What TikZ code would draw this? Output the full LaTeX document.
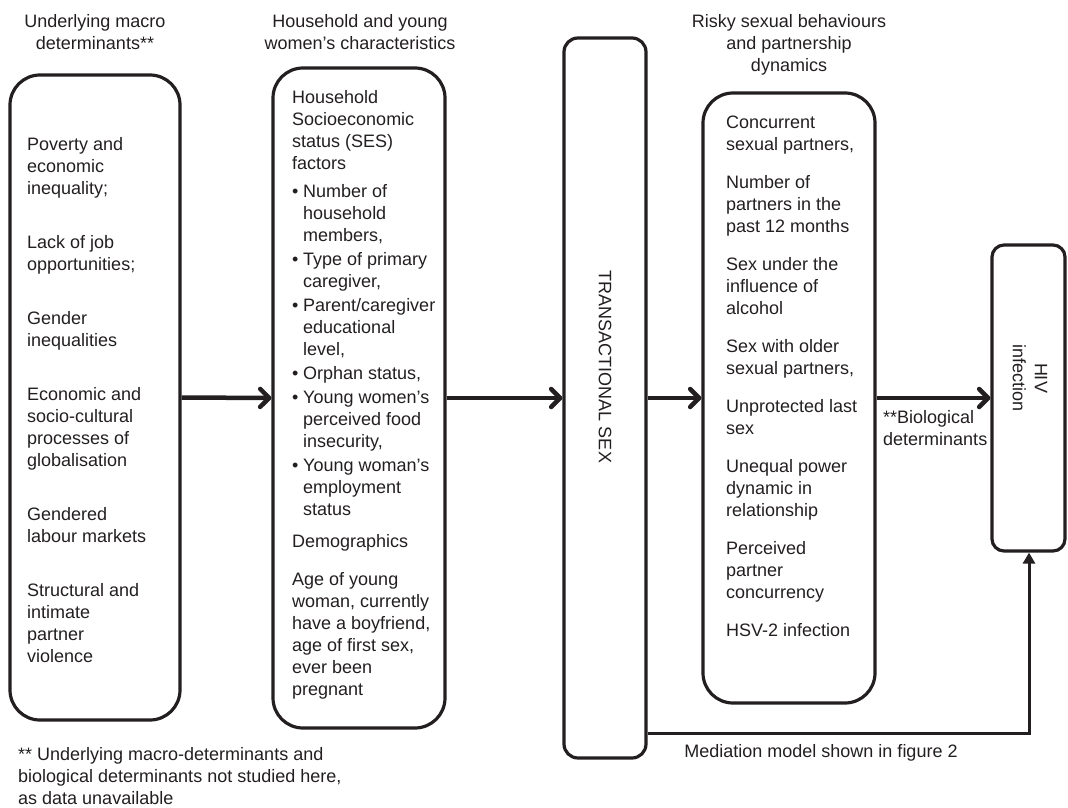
\documentclass[tikz,border=0pt]{standalone}
\usepackage{fontspec}
\setmainfont{Liberation Sans}
\usetikzlibrary{arrows.meta}
\definecolor{ink}{HTML}{231F20}
\newcommand\fs{\fontsize{18}{22}\selectfont}
\newcommand\bul{\makebox[11pt][l]{•}}
\newcommand\hng{\hspace*{11pt}}
\begin{document}
\begin{tikzpicture}[x=1pt,y=-1pt,
 box/.style={draw=ink, line width=3.2pt, rounded corners=30pt, inner sep=0pt},
 txt/.style={inner sep=0pt, align=left, font=\fs, text=ink, anchor=north west},
 hdr/.style={inner sep=0pt, align=center, font=\fs, text=ink, anchor=north},
 mainarrow/.style={draw=ink, line width=4.5pt, -{Straight Barb[length=9pt,width=18pt,round]}},
 medarrow/.style={draw=ink, line width=3pt, -{Triangle[length=11pt,width=12pt]}}]
\useasboundingbox (0,0) rectangle (1068,808);

% boxes
\node[box, minimum width=170pt, minimum height=645pt] (macro) at (95,397.5) {};
\node[box, minimum width=172pt, minimum height=660pt] (house) at (359,398) {};
\node[box, rounded corners=14pt, minimum width=82pt, minimum height=720pt] (ts) at (605,398) {};
\node[box, minimum width=172pt, minimum height=610pt] (risky) at (789,398) {};
\node[box, rounded corners=12pt, minimum width=73pt, minimum height=306pt] (hiv) at (1028.5,398) {};

% headers
\node[hdr] (h1) at (95,12) {\strut Underlying macro\\determinants**};
\node[hdr] (h2) at (360,12) {\strut Household and young\\women’s characteristics};
\node[hdr] (h3) at (789,12) {\strut Risky sexual behaviours\\and partnership\\dynamics};

% box contents
\node[txt] (macrotxt) at (27,135) {\strut Poverty and\\economic\\inequality;\\[32pt]
Lack of job\\opportunities;\\[32pt]
Gender\\inequalities\\[32pt]
Economic and\\socio-cultural\\processes of\\globalisation\\[32pt]
Gendered\\labour markets\\[32pt]
Structural and\\intimate\\partner\\violence};

\node[txt] (housetxt) at (292,88) {\strut Household\\Socioeconomic\\status (SES)\\factors\\[6pt]
\bul Number of\\\hng household\\\hng members,\\[2pt]
\bul Type of primary\\\hng caregiver,\\[2pt]
\bul Parent/caregiver\\\hng educational\\\hng level,\\[2pt]
\bul Orphan status,\\[2pt]
\bul Young women’s\\\hng perceived food\\\hng insecurity,\\[2pt]
\bul Young woman’s\\\hng employment\\\hng status\\[10pt]
Demographics\\[16pt]
Age of young\\woman, currently\\have a boyfriend,\\age of first sex,\\ever been\\pregnant};

\node[txt] (riskytxt) at (726,113) {\strut Concurrent\\sexual partners,\\[16pt]
Number of\\partners in the\\past 12 months\\[16pt]
Sex under the\\influence of\\alcohol\\[16pt]
Sex with older\\sexual partners,\\[16pt]
Unprotected last\\sex\\[16pt]
Unequal power\\dynamic in\\relationship\\[16pt]
Perceived\\partner\\concurrency\\[16pt]
HSV-2 infection};

\node[font=\fs, text=ink, rotate=-90, inner sep=0pt] (tstxt) at (605,367) {TRANSACTIONAL SEX};
\node[font=\fs, text=ink, rotate=-90, inner sep=0pt, align=center] (hivtxt) at (1030,378) {HIV\\infection};

\node[txt] (bio) at (883,408) {\strut **Biological\\determinants};
\node[hdr] (med) at (821,742) {\strut Mediation model shown in figure 2};
\node[txt] (foot) at (18,745) {\strut ** Underlying macro-determinants and\\biological determinants not studied here,\\as data unavailable};

% connectors
\draw[mainarrow] (macro.east) -- (house.west);
\draw[mainarrow] (house.east) -- (ts.west);
\draw[mainarrow] (ts.east) -- (risky.west);
\draw[mainarrow] (risky.east) -- (hiv.west);
\coordinate (corner) at (1029,733);
\draw[medarrow] (ts.east |- corner) -- (corner) -- (hiv.south -| corner);
\end{tikzpicture}
\end{document}
